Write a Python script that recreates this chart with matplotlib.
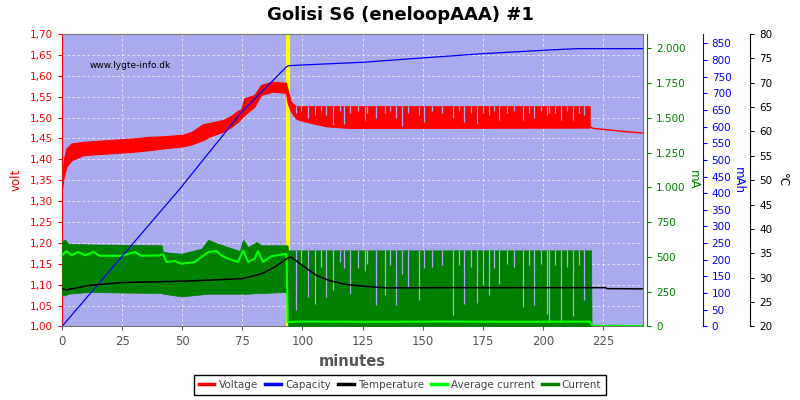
import matplotlib.pyplot as plt
from matplotlib.lines import Line2D
from matplotlib.ticker import FuncFormatter, MultipleLocator

# data -------------------------------------------------------------------------------------------
# voltage band (upper / lower edge of the noisy trace)
volt_t = [0, 0.7, 1.8, 4, 8.9, 29.5, 36.5, 42, 50.3, 54, 58.6, 62, 66.9, 70, 73.1, 74.5, 75.8,
          80, 82.7, 87.6, 93.1, 93.8, 95.2, 97.2, 98.8, 104.3, 109.9, 119.6, 219.4]
volt_hi = [1.345, 1.398, 1.426, 1.438, 1.442, 1.450, 1.454, 1.455, 1.459, 1.466, 1.484, 1.488,
           1.494, 1.503, 1.516, 1.520, 1.546, 1.554, 1.578, 1.586, 1.583, 1.566, 1.538, 1.527,
           1.527, 1.527, 1.527, 1.527, 1.527]
volt_lo = [1.330, 1.358, 1.382, 1.398, 1.410, 1.418, 1.422, 1.426, 1.431, 1.436, 1.446, 1.456,
           1.466, 1.476, 1.490, 1.498, 1.506, 1.526, 1.554, 1.562, 1.559, 1.535, 1.514, 1.498,
           1.494, 1.486, 1.479, 1.475, 1.476]
# voltage after charging stopped
tail_t = [219.4, 221, 227.8, 234.7, 241.6]
tail_v = [1.478, 1.474, 1.470, 1.466, 1.463]

# capacity mAh
cap_t = [0, 49, 74.6, 93.4, 94.5, 100, 125, 140, 175, 200, 214, 241.5]
cap = [0, 413, 643, 780, 783, 785, 793, 801, 819, 829, 834, 834]

# temperature
temp_t = [0, 2, 11, 25, 52, 75, 83, 88.5, 94.1, 95.3, 100.9, 105.7, 111.2, 118.2, 126.5, 134.8,
          156.9, 226, 226.5, 241.5]
temp = [27.7, 27.5, 28.4, 29.0, 29.3, 29.8, 30.8, 32.2, 34.1, 34.2, 32.2, 30.5, 29.4, 28.6,
        28.2, 27.9, 27.95, 27.95, 27.75, 27.7]

# current band mA
cur_t = [0, 0.5, 1.2, 2.6, 11, 41.4, 42, 49.7, 58, 60.8, 64, 69, 73.9, 75.3, 77.4, 80.9, 82.9,
         92.6, 93.8, 94.0, 220.0, 220.2]
cur_hi = [610, 619, 624, 595, 590, 583, 535, 523, 559, 624, 600, 571, 542, 624, 571, 607, 583,
          583, 583, 547, 547, 0]
cur_lo = [225, 223, 223, 235, 247, 240, 235, 216, 230, 235, 235, 235, 235, 235, 235, 240, 240,
          247, 247, 0, 0, 0]

# average current
avg_t = [0, 1.9, 4, 6.7, 9.5, 13, 15.8, 24.8, 30.3, 33, 40.7, 42.1, 43.4, 46.9, 49.7, 55.2,
         60.8, 64.2, 66.3, 69.1, 73.2, 75.3, 77.4, 80.1, 81.5, 83.6, 87.1, 92.6, 93.4, 93.8,
         100, 130, 160, 190, 219.5, 220.5, 241.5]
avg = [511, 542, 511, 535, 511, 535, 508, 508, 535, 508, 511, 520, 463, 470, 451, 463, 535, 542,
       511, 487, 463, 548, 463, 487, 542, 463, 505, 520, 520, 31, 35, 33, 35, 33, 35, 5, 3]

# pauses in the pulsed charge (current and voltage drop outs)
dip_t = [97.1, 99.5, 102.2, 105.0, 107.5, 109.9, 112.6, 115.5, 117.4, 119.6, 123, 125.8, 127,
         130.6, 134.1, 136.5, 138.9, 141.4, 143.8, 148.3, 150.7, 154, 158, 162.7, 165, 167.3,
         170, 172.4, 174.9, 177.4, 179.5, 181.8, 185, 188, 191.5, 194, 196.3, 199, 201.5, 202.6,
         205, 207.4, 210, 212.5, 215, 217.1]
cur_dip = [115, 440, 211, 163, 430, 211, 259, 460, 420, 235, 420, 400, 450, 151, 223, 440, 151,
           380, 283, 187, 420, 430, 440, 79, 440, 163, 430, 168, 295, 223, 420, 307, 450, 430,
           139, 440, 151, 450, 91, 31, 440, 31, 430, 72, 440, 187]
volt_dip = [1.51, 1.515, 1.50, 1.505, 1.515, 1.505, 1.483, 1.515, 1.485, 1.51, 1.515, 1.494,
            1.512, 1.50, 1.51, 1.515, 1.50, 1.479, 1.51, 1.505, 1.49, 1.515, 1.512, 1.50, 1.515,
            1.49, 1.512, 1.485, 1.51, 1.505, 1.515, 1.495, 1.512, 1.515, 1.493, 1.512, 1.50,
            1.515, 1.505, 1.51, 1.512, 1.495, 1.515, 1.493, 1.512, 1.505]

end_charge = 94.0
#-------------------------------------------------------------------------------------------------

bg = '#AAAAEE'
fig = plt.figure(figsize=(8, 4), dpi=100)
ax = fig.add_axes([0.0775, 0.184, 0.726, 0.731])
ax.set_facecolor(bg)

# voltage axis
ax.axvline(end_charge, color='#FFFF00', lw=3, zorder=1)
ax.fill_between(volt_t, volt_lo, volt_hi, color='red', lw=0.8, zorder=3)
ax.plot(tail_t, tail_v, color='red', lw=1, zorder=3)
ax.vlines(dip_t, volt_dip, 1.528, color=bg, lw=0.9, zorder=4)
ax.set_xlim(0, 241.5)
ax.set_ylim(1.0, 1.7)
ax.xaxis.set_major_locator(MultipleLocator(25))
ax.yaxis.set_major_locator(MultipleLocator(0.05))
ax.yaxis.set_major_formatter(FuncFormatter(lambda v, p: f"{v:.2f}".replace('.', ',')))
ax.grid(color='white', ls=(0, (3, 3)), lw=0.6, alpha=0.8, zorder=2)
ax.set_axisbelow(True)
ax.tick_params(axis='y', colors='red', labelsize=7.5, length=3)
ax.tick_params(axis='x', colors='#555555', labelsize=8.5, length=3)
ax.spines['left'].set_color('red')
for s in ['top', 'right', 'bottom']:
    ax.spines[s].set_color('#777777')
ax.set_ylabel('volt', color='red', fontsize=8.5, labelpad=5)
ax.set_xlabel('minutes', color='#555555', fontsize=10.5, fontweight='bold', labelpad=4)
ax.text(0.048, 0.885, 'www.lygte-info.dk', transform=ax.transAxes, fontsize=6.5, color='black')

def side_axis(pos, color):
    a = ax.twinx()
    a.spines['right'].set_position(('axes', pos))
    a.spines['right'].set_color(color)
    for s in ['top', 'left', 'bottom']:
        a.spines[s].set_visible(False)
    a.tick_params(axis='y', colors=color, labelsize=7.5, length=3)
    return a

# current axis
ax_ma = side_axis(1.007, 'green')
ax_ma.fill_between(cur_t, cur_lo, cur_hi, color='#007F00', lw=0.5)
ax_ma.vlines(dip_t, cur_dip, 548, color=bg, lw=0.9)
ax_ma.plot(avg_t, avg, color='#00FF00', lw=1.5)
ax_ma.set_ylim(0, 2103)
ax_ma.yaxis.set_major_locator(MultipleLocator(250))
ax_ma.yaxis.set_major_formatter(FuncFormatter(lambda v, p: f"{v:,.0f}".replace(',', '.')))
ax_ma.set_ylabel('mA', color='green', fontsize=8.5, rotation=-90, labelpad=10)

# capacity axis
ax_mah = side_axis(1.103, 'blue')
ax_mah.plot(cap_t, cap, color='blue', lw=0.9)
ax_mah.set_ylim(0, 878)
ax_mah.yaxis.set_major_locator(MultipleLocator(50))
ax_mah.set_ylabel('mAh', color='blue', fontsize=8.5, rotation=-90, labelpad=10)

# temperature axis
ax_t = side_axis(1.185, 'black')
ax_t.plot(temp_t, temp, color='black', lw=1.1)
ax_t.set_ylim(20, 80)
ax_t.yaxis.set_major_locator(MultipleLocator(5))
ax_t.set_ylabel('°C', color='black', fontsize=8.5, rotation=-90, labelpad=12)

fig.suptitle('Golisi S6 (eneloopAAA) #1', fontsize=13, fontweight='bold', y=0.985)

handles = [Line2D([], [], color='red', lw=2.5), Line2D([], [], color='blue', lw=2.5),
           Line2D([], [], color='black', lw=2.5), Line2D([], [], color='#00FF00', lw=2.5),
           Line2D([], [], color='#007F00', lw=2.5)]
leg = fig.legend(handles, ['Voltage', 'Capacity', 'Temperature', 'Average current', 'Current'],
                 loc='lower center', bbox_to_anchor=(0.5, 0.0), ncol=5, fontsize=7.5,
                 fancybox=False, edgecolor='black', framealpha=1, handlelength=1.5,
                 handletextpad=0.4, columnspacing=0.7, borderpad=0.45)
leg.get_frame().set_linewidth(1.0)
for t in leg.get_texts():
    t.set_color('#444444')

plt.savefig('out.png')
